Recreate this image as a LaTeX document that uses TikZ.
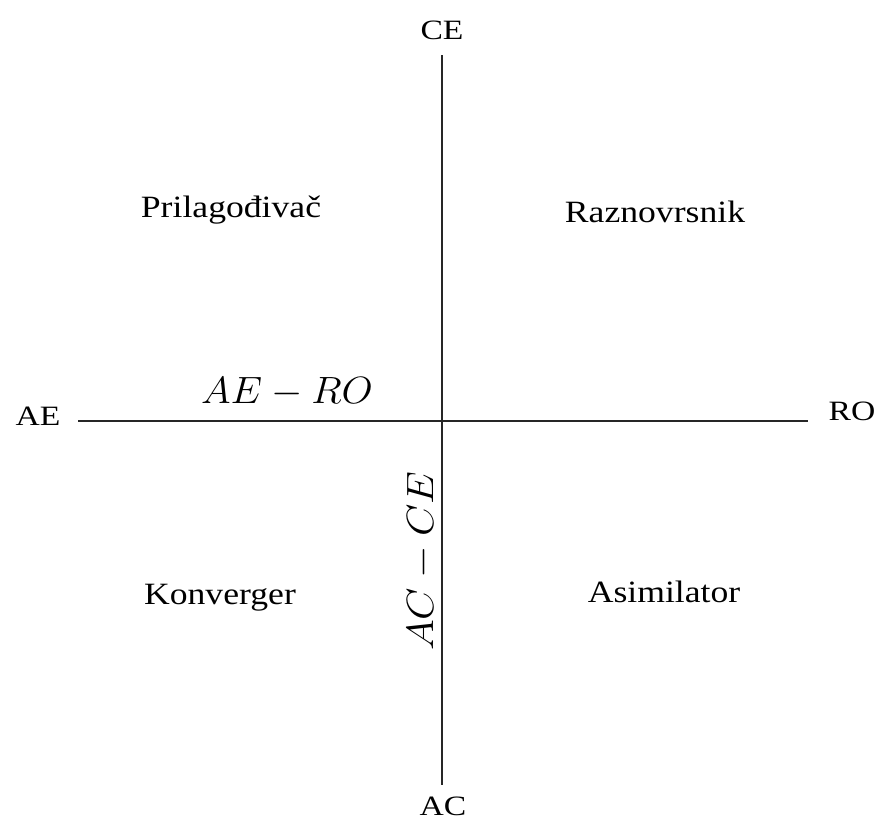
\documentclass[tikz,border=0pt]{standalone}
\usepackage{fix-cm}
\usepackage{fontspec}
\setmainfont{Liberation Serif}
\DeclareMathSizes{38}{38}{28}{20}
\begin{document}
\begin{tikzpicture}[x=1pt,y=-1pt,
  axis/.style={line width=1.6pt, draw=black!85},
  lbl/.style={font=\fontsize{31}{36}\selectfont, anchor=base, inner sep=0pt, xscale=1.15},
  endlbl/.style={font=\fontsize{28}{32}\selectfont, inner sep=0pt, xscale=1.2},
  mlbl/.style={font=\fontsize{38}{44}\selectfont, anchor=base, inner sep=0pt, xscale=1.06}]
\useasboundingbox (0,0) rectangle (880,823);
\coordinate (top) at (442,55);
\coordinate (bot) at (442,785);
\coordinate (left) at (78,421);
\coordinate (right) at (808,421);
\draw[axis] (top) -- (bot);
\draw[axis] (left) -- (right);
\node[endlbl] (ce) at (442,30) {CE};
\node[endlbl] (ac) at (443,806) {AC};
\node[endlbl] (ae) at (38,416) {AE};
\node[endlbl] (ro) at (852,411) {RO};
\node[lbl] (q1) at (231,217) {Prilagođivač};
\node[lbl] (q2) at (655,222) {Raznovrsnik};
\node[lbl] (q3) at (220,604) {Konverger};
\node[lbl] (q4) at (664,602) {Asimilator};
\node[mlbl] (h) at (287,403) {$AE-RO$};
\node[rotate=90, mlbl, xscale=1.04] (v) at (433,561) {$AC-CE$};
\end{tikzpicture}
\end{document}
